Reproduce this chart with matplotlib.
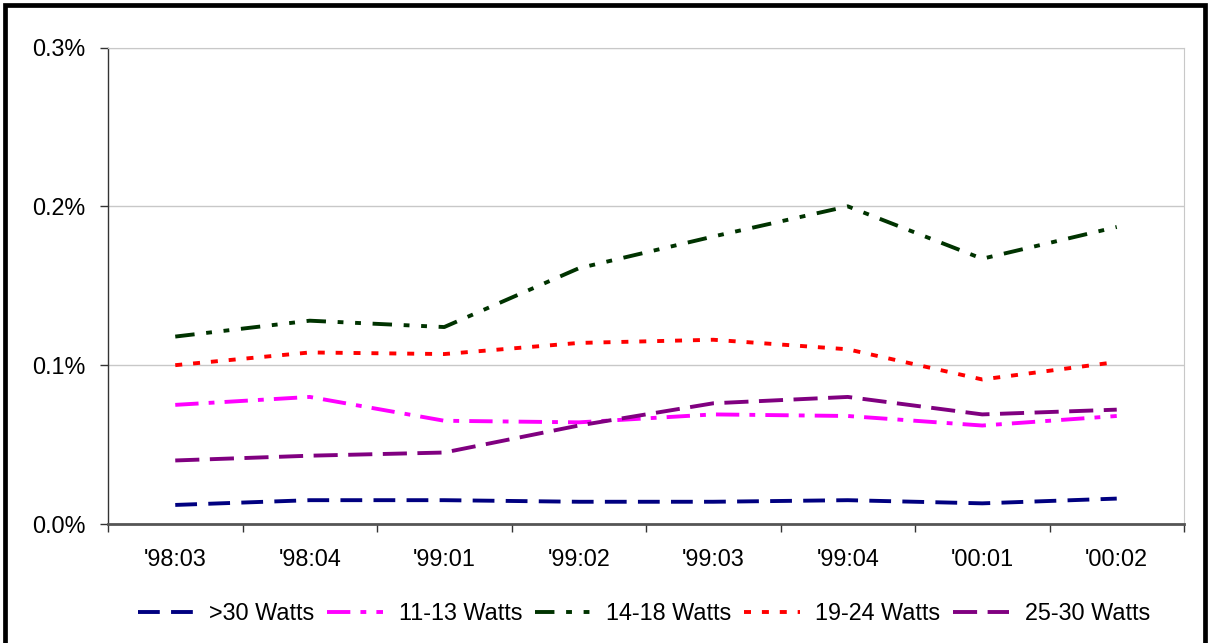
import numpy as np
import matplotlib
matplotlib.use("Agg")
import matplotlib.pyplot as plt
from matplotlib.patches import Rectangle

plt.rcParams['font.family'] = ['Liberation Sans', 'DejaVu Sans']

# data (values in percent)
quarters = ["'98:03", "'98:04", "'99:01", "'99:02", "'99:03", "'99:04", "'00:01", "'00:02"]
over_30 = [0.012, 0.015, 0.015, 0.014, 0.014, 0.015, 0.013, 0.016]
w_11_13 = [0.075, 0.080, 0.065, 0.064, 0.069, 0.068, 0.062, 0.068]
w_14_18 = [0.118, 0.128, 0.124, 0.161, 0.181, 0.200, 0.167, 0.187]
w_19_24 = [0.100, 0.108, 0.107, 0.114, 0.116, 0.110, 0.091, 0.102]
w_25_30 = [0.040, 0.043, 0.045, 0.062, 0.076, 0.080, 0.069, 0.072]

series = [
    ('>30 Watts', over_30, '#000080', (0, (5.6, 2.9))),
    ('11-13 Watts', w_11_13, '#FF00FF', (0, (6.0, 2.6, 1.5, 2.6))),
    ('14-18 Watts', w_14_18, '#003300', (0, (5.0, 3.0, 1.5, 3.0, 1.5, 3.0))),
    ('19-24 Watts', w_19_24, '#FF0000', (0, (1.8, 2.8))),
    ('25-30 Watts', w_25_30, '#800080', (0, (6.2, 2.7))),
]

fig = plt.figure(figsize=(12.09, 6.43), dpi=100)
ax = fig.add_axes([108 / 1209, 1 - 524 / 643, (1184 - 108) / 1209, (524 - 47.5) / 643])

x = np.arange(len(quarters))
for label, vals, color, ls in series:
    ax.plot(x, vals, color=color, lw=2.8, linestyle=ls, label=label)

ax.set_xlim(-0.5, len(quarters) - 0.5)
ax.set_ylim(0, 0.3)
ax.set_yticks([0, 0.1, 0.2, 0.3])
ax.set_yticklabels(['%.1f%%' % v for v in [0, 0.1, 0.2, 0.3]])
ax.yaxis.grid(True, color='#c8c8c8', lw=1)
ax.set_axisbelow(True)

ax.set_xticks(x)
ax.set_xticklabels(quarters)
ax.set_xticks(np.arange(-0.5, len(quarters)), minor=True)
ax.tick_params(axis='x', which='major', length=0, pad=17, labelsize=16.8)
ax.tick_params(axis='x', which='minor', length=6, width=1, color='#333333', direction='out')
ax.tick_params(axis='y', length=6, width=1, color='#333333', pad=10, labelsize=16.8)

ax.spines['left'].set_color('#333333')
ax.spines['left'].set_linewidth(1)
ax.spines['bottom'].set_color('#555555')
ax.spines['bottom'].set_linewidth(2)
ax.spines['right'].set_color('#c8c8c8')
ax.spines['top'].set_color('#c8c8c8')

fig.legend(loc='center', bbox_to_anchor=(644 / 1209, 1 - 614 / 643), ncol=5,
           frameon=False, fontsize=16.8, handlelength=2.4, handletextpad=0.65,
           columnspacing=0.55)

# outer black frame
fig.patches.append(Rectangle((5 / 1209, -0.05), 1200 / 1209, 1.05 - 5 / 643,
                             transform=fig.transFigure, fill=False,
                             edgecolor='black', lw=3.4))

fig.savefig('out.png', dpi=100)
